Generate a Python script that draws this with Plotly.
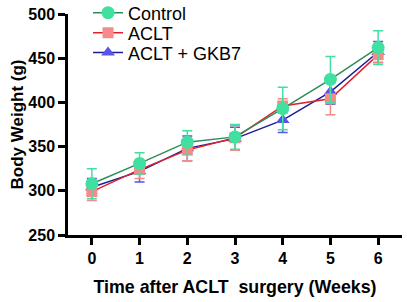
import plotly.graph_objects as go

weeks = [0, 1, 2, 3, 4, 5, 6]
control = [308, 331, 355, 361, 393, 426, 462]
control_sd = [17, 12, 13, 14, 24, 26, 19]
aclt = [299, 324, 346, 360, 396, 404, 454]
aclt_sd = [10, 10, 12, 14, 8, 18, 9]
gkb7 = [304, 322, 348, 359, 380, 412, 457]
gkb7_sd = [10, 12, 14, 13, 14, 14, 12]

FONT = "Liberation Sans, Arial, sans-serif"
fig = go.Figure()

def add(name, y, sd, line_c, mark_c, symbol, size, leg):
    fig.add_trace(go.Scatter(
        x=weeks, y=y, name=name, mode="lines+markers",
        line=dict(color=line_c, width=1.5),
        marker=dict(color=mark_c, symbol=symbol, size=size),
        error_y=dict(type="data", array=sd, visible=True, color=mark_c,
                     thickness=1.5, width=5),
        legend=leg,
    ))

add("ACLT + GKB7", gkb7, gkb7_sd, "#1c1c96", "#5a55e6", "triangle-up", 12, "legend3")
add("ACLT", aclt, aclt_sd, "#e0202a", "#f58a8a", "square", 11, "legend2")
add("Control", control, control_sd, "#2e8b57", "#40e0a0", "circle", 13, "legend")

def leg(y):
    return dict(x=0.06, y=y, xanchor="left", yanchor="middle",
                bgcolor="rgba(0,0,0,0)", font=dict(size=18, family=FONT),
                itemwidth=30, borderwidth=0)

fig.update_layout(
    width=407, height=302,
    margin=dict(l=68, r=5, t=14, b=67, autoexpand=False),
    paper_bgcolor="white", plot_bgcolor="white",
    font=dict(family=FONT, color="black"),
    showlegend=True,
    legend=leg(1.0045), legend2=leg(0.914), legend3=leg(0.824),
    xaxis=dict(range=[-0.5, 6.5], tickvals=weeks, ticktext=[str(w) for w in weeks],
               showgrid=False, zeroline=False, showline=True, linecolor="black",
               linewidth=2.5, ticks="outside", ticklen=7, tickwidth=2.5,
               tickcolor="black", automargin=False,
               tickfont=dict(size=16, family=FONT, weight="bold"),
               title=dict(text="<b>Time after ACLT  surgery (Weeks)</b>",
                          font=dict(size=17.8, family=FONT))),
    yaxis=dict(range=[250, 500], tickvals=[250, 300, 350, 400, 450, 500],
               showgrid=False, zeroline=False, showline=True, linecolor="black",
               linewidth=2.5, ticks="outside", ticklen=7, tickwidth=2.5,
               tickcolor="black", automargin=False,
               tickfont=dict(size=16, family=FONT, weight="bold"),
               title=dict(text="<b>Body Weight (g)</b>",
                          font=dict(size=17, family=FONT), standoff=1)),
)

fig.write_html("out.html", config={"displayModeBar": False},
               post_script="document.body.style.margin='0';document.body.style.padding='0';")
